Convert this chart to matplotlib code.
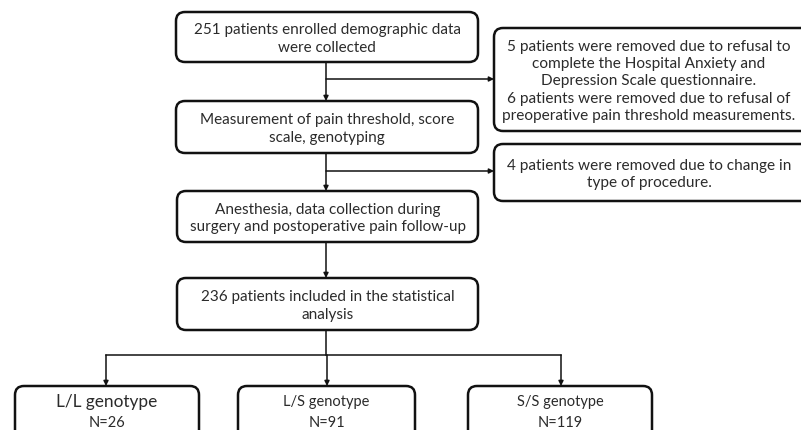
import matplotlib.pyplot as plt
from matplotlib.patches import FancyBboxPatch

# box texts
main_steps = [
    "251 patients enrolled demographic data\nwere collected",
    "Measurement of pain threshold, score\nscale, genotyping",
    "Anesthesia, data collection during\nsurgery and postoperative pain follow-up",
    "236 patients included in the statistical\nanalysis",
]
removed = [
    "5 patients were removed due to refusal to\ncomplete the Hospital Anxiety and\nDepression Scale questionnaire.\n"
    "6 patients were removed due to refusal of\npreoperative pain threshold measurements.",
    "4 patients were removed due to change in\ntype of procedure.",
]
genotypes = ["L/L", "L/S", "S/S"]
counts = [26, 91, 119]

# layout (pixels, y downwards)
main_boxes = [(176, 13, 302, 50), (176, 102, 302, 52), (177, 192, 301, 51), (177, 279, 301, 52)]
side_boxes = [(494, 29, 330, 103), (494, 145, 330, 57)]
side_branch_y = [80, 172]
geno_boxes = [(15, 387, 184, 60), (238, 387, 177, 60), (468, 387, 184, 60)]
geno_x = [106, 327, 561]
spine_x = 326
split_y = 356

plt.rcParams['font.family'] = ['Lato', 'DejaVu Sans']
fig = plt.figure(figsize=(8.01, 4.31), dpi=100)
ax = fig.add_axes([0, 0, 1, 1])
ax.set_xlim(0, 801)
ax.set_ylim(431, 0)
ax.axis('off')

txt_col = '#2b2b2b'


def box(x, y, w, h):
    ax.add_patch(FancyBboxPatch((x, y), w, h, boxstyle="round,pad=0,rounding_size=9",
                                fc='white', ec='#111111', lw=1.8))


def arrow(x0, y0, x1, y1):
    ax.annotate("", xy=(x1, y1), xytext=(x0, y0),
                arrowprops=dict(arrowstyle='-|>', color='#111111', lw=1.1,
                                mutation_scale=7, shrinkA=0, shrinkB=0))


for (x, y, w, h), t in zip(main_boxes, main_steps):
    box(x, y, w, h)
    ax.text(x + w / 2, y + h / 2 + 1, t, ha='center', va='center', fontsize=11,
            color=txt_col, linespacing=1.3)

for (x, y, w, h), t in zip(side_boxes, removed):
    box(x, y, w, h)
    ax.text(649, y + h / 2 + 1, t, ha='center', va='center', fontsize=11.1,
            color=txt_col, linespacing=1.3)

# vertical flow
for (x, y, w, h), (x2, y2, w2, h2) in zip(main_boxes[:-1], main_boxes[1:]):
    arrow(spine_x, y + h, spine_x, y2)
for by in side_branch_y:
    arrow(spine_x, by, 494, by)

# split to genotypes
last = main_boxes[-1]
ax.plot([spine_x, spine_x], [last[1] + last[3], split_y], color='#111111', lw=1.1)
ax.plot([geno_x[0], geno_x[-1]], [split_y, split_y], color='#111111', lw=1.1)
for gx, (x, y, w, h), g, n in zip(geno_x, geno_boxes, genotypes, counts):
    arrow(gx, split_y, gx, y)
    box(x, y, w, h)
    ax.text(x + w / 2, 402, f"{g} genotype", ha='center', va='center',
            fontsize=12.4 if g == "L/L" else 10.5, color=txt_col)
    ax.text(x + w / 2, 423, f"N={n}", ha='center', va='center', fontsize=10.5, color=txt_col)

fig.savefig('out.png', dpi=100, facecolor='white')
